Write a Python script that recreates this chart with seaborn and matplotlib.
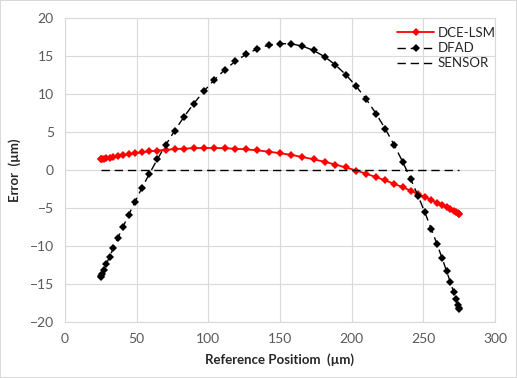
import matplotlib
matplotlib.use("Agg")
import matplotlib.pyplot as plt
import seaborn as sns
import pandas as pd

# reference positions (um), same for all three series
posicao = [25.0, 25.3, 26.0, 27.2, 28.9, 31.1, 33.8, 36.9, 40.5, 44.5,
           48.9, 53.7, 58.9, 64.4, 70.3, 76.5, 83.0, 89.8, 96.8, 104.0,
           111.4, 118.9, 126.6, 134.3, 142.2, 150.0, 157.9, 165.7, 173.4, 181.1,
           188.6, 196.0, 203.2, 210.2, 217.0, 223.5, 229.7, 235.6, 241.1, 246.3,
           251.1, 255.5, 259.5, 263.1, 266.2, 268.9, 271.1, 272.8, 274.0, 274.8,
           275.0]

dce_lsm = [1.40, 1.41, 1.44, 1.49, 1.55, 1.63, 1.73, 1.83, 1.95, 2.07,
           2.20, 2.32, 2.45, 2.56, 2.66, 2.75, 2.82, 2.87, 2.90, 2.90,
           2.86, 2.80, 2.71, 2.58, 2.41, 2.21, 1.98, 1.71, 1.41, 1.08,
           0.72, 0.33, -0.07, -0.50, -0.93, -1.38, -1.82, -2.27, -2.71, -3.14,
           -3.55, -3.94, -4.30, -4.64, -4.93, -5.19, -5.41, -5.58, -5.70, -5.77,
           -5.80]

dfad = [-14.13, -14.01, -13.68, -13.13, -12.37, -11.41, -10.26, -8.94, -7.47, -5.87,
        -4.16, -2.35, -0.49, 1.40, 3.30, 5.17, 6.99, 8.73, 10.35, 11.84,
        13.17, 14.31, 15.25, 15.96, 16.43, 16.64, 16.60, 16.30, 15.73, 14.91,
        13.84, 12.53, 11.02, 9.30, 7.42, 5.40, 3.28, 1.08, -1.16, -3.39,
        -5.59, -7.71, -9.73, -11.59, -13.28, -14.77, -16.02, -17.02, -17.74, -18.18,
        -18.33]

sensor = [0.0] * len(posicao)

df = pd.DataFrame({"pos": posicao, "dce": dce_lsm, "dfad": dfad, "sensor": sensor})

sns.set_style("white")
plt.rcParams["font.family"] = ["Lato", "DejaVu Sans"]

fig = plt.figure(figsize=(5.17, 3.78), dpi=100, linewidth=1.2, edgecolor="#D9D9D9")
ax = fig.add_axes([0.1257, 0.1481, 0.8317, 0.8043])

sns.lineplot(data=df, x="pos", y="dce", ax=ax, color="#FF0000", marker="D",
             markersize=4, markeredgewidth=0, linewidth=1.3, label="DCE-LSM", sort=False)
sns.lineplot(data=df, x="pos", y="dfad", ax=ax, color="black", marker="D",
             markersize=4, markeredgewidth=0, linewidth=1.0, linestyle=(0, (6, 3.5)),
             label="DFAD", sort=False)
sns.lineplot(data=df, x="pos", y="sensor", ax=ax, color="black", linewidth=1.0,
             linestyle=(0, (6, 3.5)), label="SENSOR", sort=False)

ax.set_xlim(0, 300)
ax.set_ylim(-20, 20)
ax.set_xticks(range(0, 301, 50))
ax.set_yticks(range(-20, 21, 5))
ax.grid(True, color="#D9D9D9", linewidth=0.8)
ax.set_axisbelow(True)
for s in ax.spines.values():
    s.set_color("#D9D9D9")
    s.set_linewidth(0.8)
ax.tick_params(length=0, labelsize=10, labelcolor="#595959", pad=8)

ax.set_xlabel("Reference Positiom  (\u00b5m)", fontsize=9.5, fontweight="bold", labelpad=6)
ax.set_ylabel("Error  (\u00b5m)", fontsize=9.5, fontweight="bold", labelpad=6)

leg = ax.legend(loc="upper right", bbox_to_anchor=(1.03, 1.01), frameon=False,
                fontsize=9.5, handlelength=2.8, labelspacing=0.25, handletextpad=0.3)

fig.savefig("out.png", dpi=100)
